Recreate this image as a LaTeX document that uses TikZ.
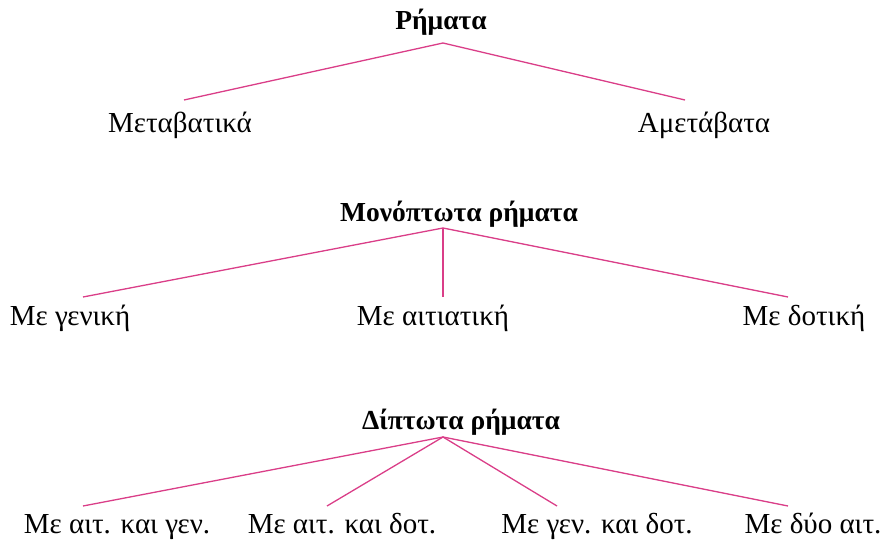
\documentclass[tikz,border=0pt]{standalone}
\usepackage{fontspec}
\setmainfont{Liberation Serif}
\usepackage{xcolor}
\definecolor{branchpink}{RGB}{218,62,136}
\usetikzlibrary{positioning}

\tikzset{
  head/.style={anchor=base, font=\fontsize{27.5}{30}\selectfont\bfseries, inner sep=0pt},
  leaf/.style={anchor=base, font=\fontsize{29}{32}\selectfont, inner sep=0pt},
  branch/.style={draw=branchpink, line width=1.3pt}
}

\begin{document}
\begin{tikzpicture}[x=1pt,y=-1pt]
  \useasboundingbox (0,0) rectangle (886,540);

  %Ρήματα
  \node [head] (rhm) at (441,30) {Ρήματα};
  \node [leaf] (metab) at (180,133) {Μεταβατικά};
  \node [leaf] (amet) at (704,133) {Αμετάβατα};
  \coordinate (rhmtop) at (443,43);
  \coordinate (metabtop) at (184,100);
  \coordinate (amettop) at (685,100);
  \draw [branch] (metabtop) -- (rhmtop) -- (amettop);

  %Μονόπτωτα
  \node [head] (mono) at (459,222) {Μονόπτωτα ρήματα};
  \node [leaf] (gen) at (70,325) {Με γενική};
  \node [leaf] (ait) at (433,325) {Με αιτιατική};
  \node [leaf] (dot) at (804,325) {Με δοτική};
  \coordinate (monotop) at (443,228);
  \coordinate (gentop) at (83,297);
  \coordinate (aittop) at (443,297);
  \coordinate (dottop) at (788,297);
  \draw [branch] (gentop) -- (monotop) -- (dottop);
  \draw [branch] (monotop) -- (aittop);

  %Δίπτωτα
  \node [head] (dipt) at (461,429) {Δίπτωτα ρήματα};
  \node [leaf] (aitgen) at (117,533) {Με αιτ. και γεν.};
  \node [leaf] (aitdot) at (342,533) {Με αιτ. και δοτ.};
  \node [leaf] (gendot) at (597,533) {Με γεν. και δοτ.};
  \node [leaf] (dyoait) at (813,533) {Με δύο αιτ.};
  \coordinate (dipttop) at (443,437);
  \coordinate (aitgentop) at (83,506);
  \coordinate (aitdottop) at (327,506);
  \coordinate (gendottop) at (557,506);
  \coordinate (dyoaittop) at (788,506);
  \draw [branch] (aitgentop) -- (dipttop) -- (dyoaittop);
  \draw [branch] (aitdottop) -- (dipttop) -- (gendottop);
\end{tikzpicture}
\end{document}
